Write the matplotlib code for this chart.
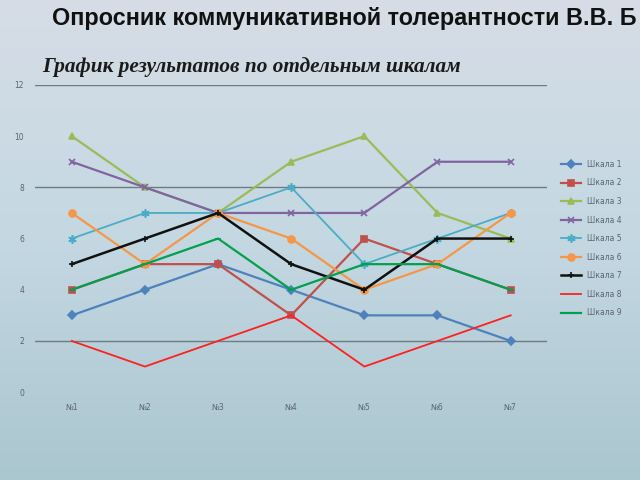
import numpy as np
import matplotlib
matplotlib.use("Agg")
import matplotlib.pyplot as plt
from matplotlib.colors import LinearSegmentedColormap

# данные
categories = ["№1", "№2", "№3", "№4", "№5", "№6", "№7"]
series_names = ["Шкала 1", "Шкала 2", "Шкала 3", "Шкала 4", "Шкала 5",
                "Шкала 6", "Шкала 7", "Шкала 8", "Шкала 9"]
shkala_1 = [3, 4, 5, 4, 3, 3, 2]
shkala_2 = [4, 5, 5, 3, 6, 5, 4]
shkala_3 = [10, 8, 7, 9, 10, 7, 6]
shkala_4 = [9, 8, 7, 7, 7, 9, 9]
shkala_5 = [6, 7, 7, 8, 5, 6, 7]
shkala_6 = [7, 5, 7, 6, 4, 5, 7]
shkala_7 = [5, 6, 7, 5, 4, 6, 6]
shkala_8 = [2, 1, 2, 3, 1, 2, 3]
shkala_9 = [4, 5, 6, 4, 5, 5, 4]
values = [shkala_1, shkala_2, shkala_3, shkala_4, shkala_5,
          shkala_6, shkala_7, shkala_8, shkala_9]
y_ticks = [0, 2, 4, 6, 8, 10, 12]

# стиль серий (как в Excel)
colors = ["#4F81BD", "#C0504D", "#9BBB59", "#8064A2", "#4BACC6",
          "#F79646", "#111111", "#FF2020", "#00A050"]
markers = ["D", "s", "^", "x", (6, 2, 0), "o", "+", None, "_"]
msizes = [4, 5, 5, 5, 6, 5, 5, 0, 5]
widths = [1.6, 1.6, 1.6, 1.6, 1.3, 1.6, 1.8, 1.3, 1.6]

fig = plt.figure(figsize=(6.4, 4.8), dpi=100)

# фон слайда - градиент
bg = fig.add_axes([0, 0, 1, 1], zorder=-10)
grad = np.linspace(0, 1, 256).reshape(-1, 1)
cmap = LinearSegmentedColormap.from_list("slide", ["#d6dde6", "#c4d8e2", "#aac6ce"])
bg.imshow(grad, aspect="auto", cmap=cmap, extent=[0, 1, 0, 1], origin="upper")
bg.axis("off")

ax = fig.add_axes([0.055, 0.183, 0.80, 0.640])
ax.set_facecolor("none")

x = np.arange(len(categories))
for name, vals, c, m, ms, lw in zip(series_names, values, colors, markers, msizes, widths):
    ax.plot(x, vals, color=c, marker=m, markersize=ms, linewidth=lw,
            markeredgewidth=1.2, label=name)

ax.set_xlim(-0.5, len(categories) - 0.5)
ax.set_ylim(0, 12)
ax.set_xticks(x)
ax.set_xticklabels(categories, fontsize=5.5, color="#5a6470")
ax.set_yticks(y_ticks)
ax.set_yticklabels([str(v) for v in y_ticks], fontsize=5.5, color="#5a6470")
ax.tick_params(length=0, pad=8)
for s in ax.spines.values():
    s.set_visible(False)

# видимые линии сетки
for v in [2, 8, 12]:
    ax.axhline(v, color="#707a84", linewidth=1.0, zorder=0)

ax.legend(loc="center left", bbox_to_anchor=(1.02, 0.5), frameon=False,
          fontsize=5.5, labelcolor="#5a6470", handlelength=2.6,
          labelspacing=1.25, borderpad=0)

fig.text(0.081, 0.962, "Опросник коммуникативной толерантности В.В. Б",
         fontsize=16.8, fontweight="bold", family="Liberation Sans",
         color="#111111", va="center", ha="left")
fig.text(0.066, 0.860, "График результатов по отдельным шкалам",
         fontsize=15.3, fontweight="bold", style="italic",
         family="Liberation Serif", color="#1a1a1a", va="center", ha="left")

fig.savefig("out.png", dpi=100)
